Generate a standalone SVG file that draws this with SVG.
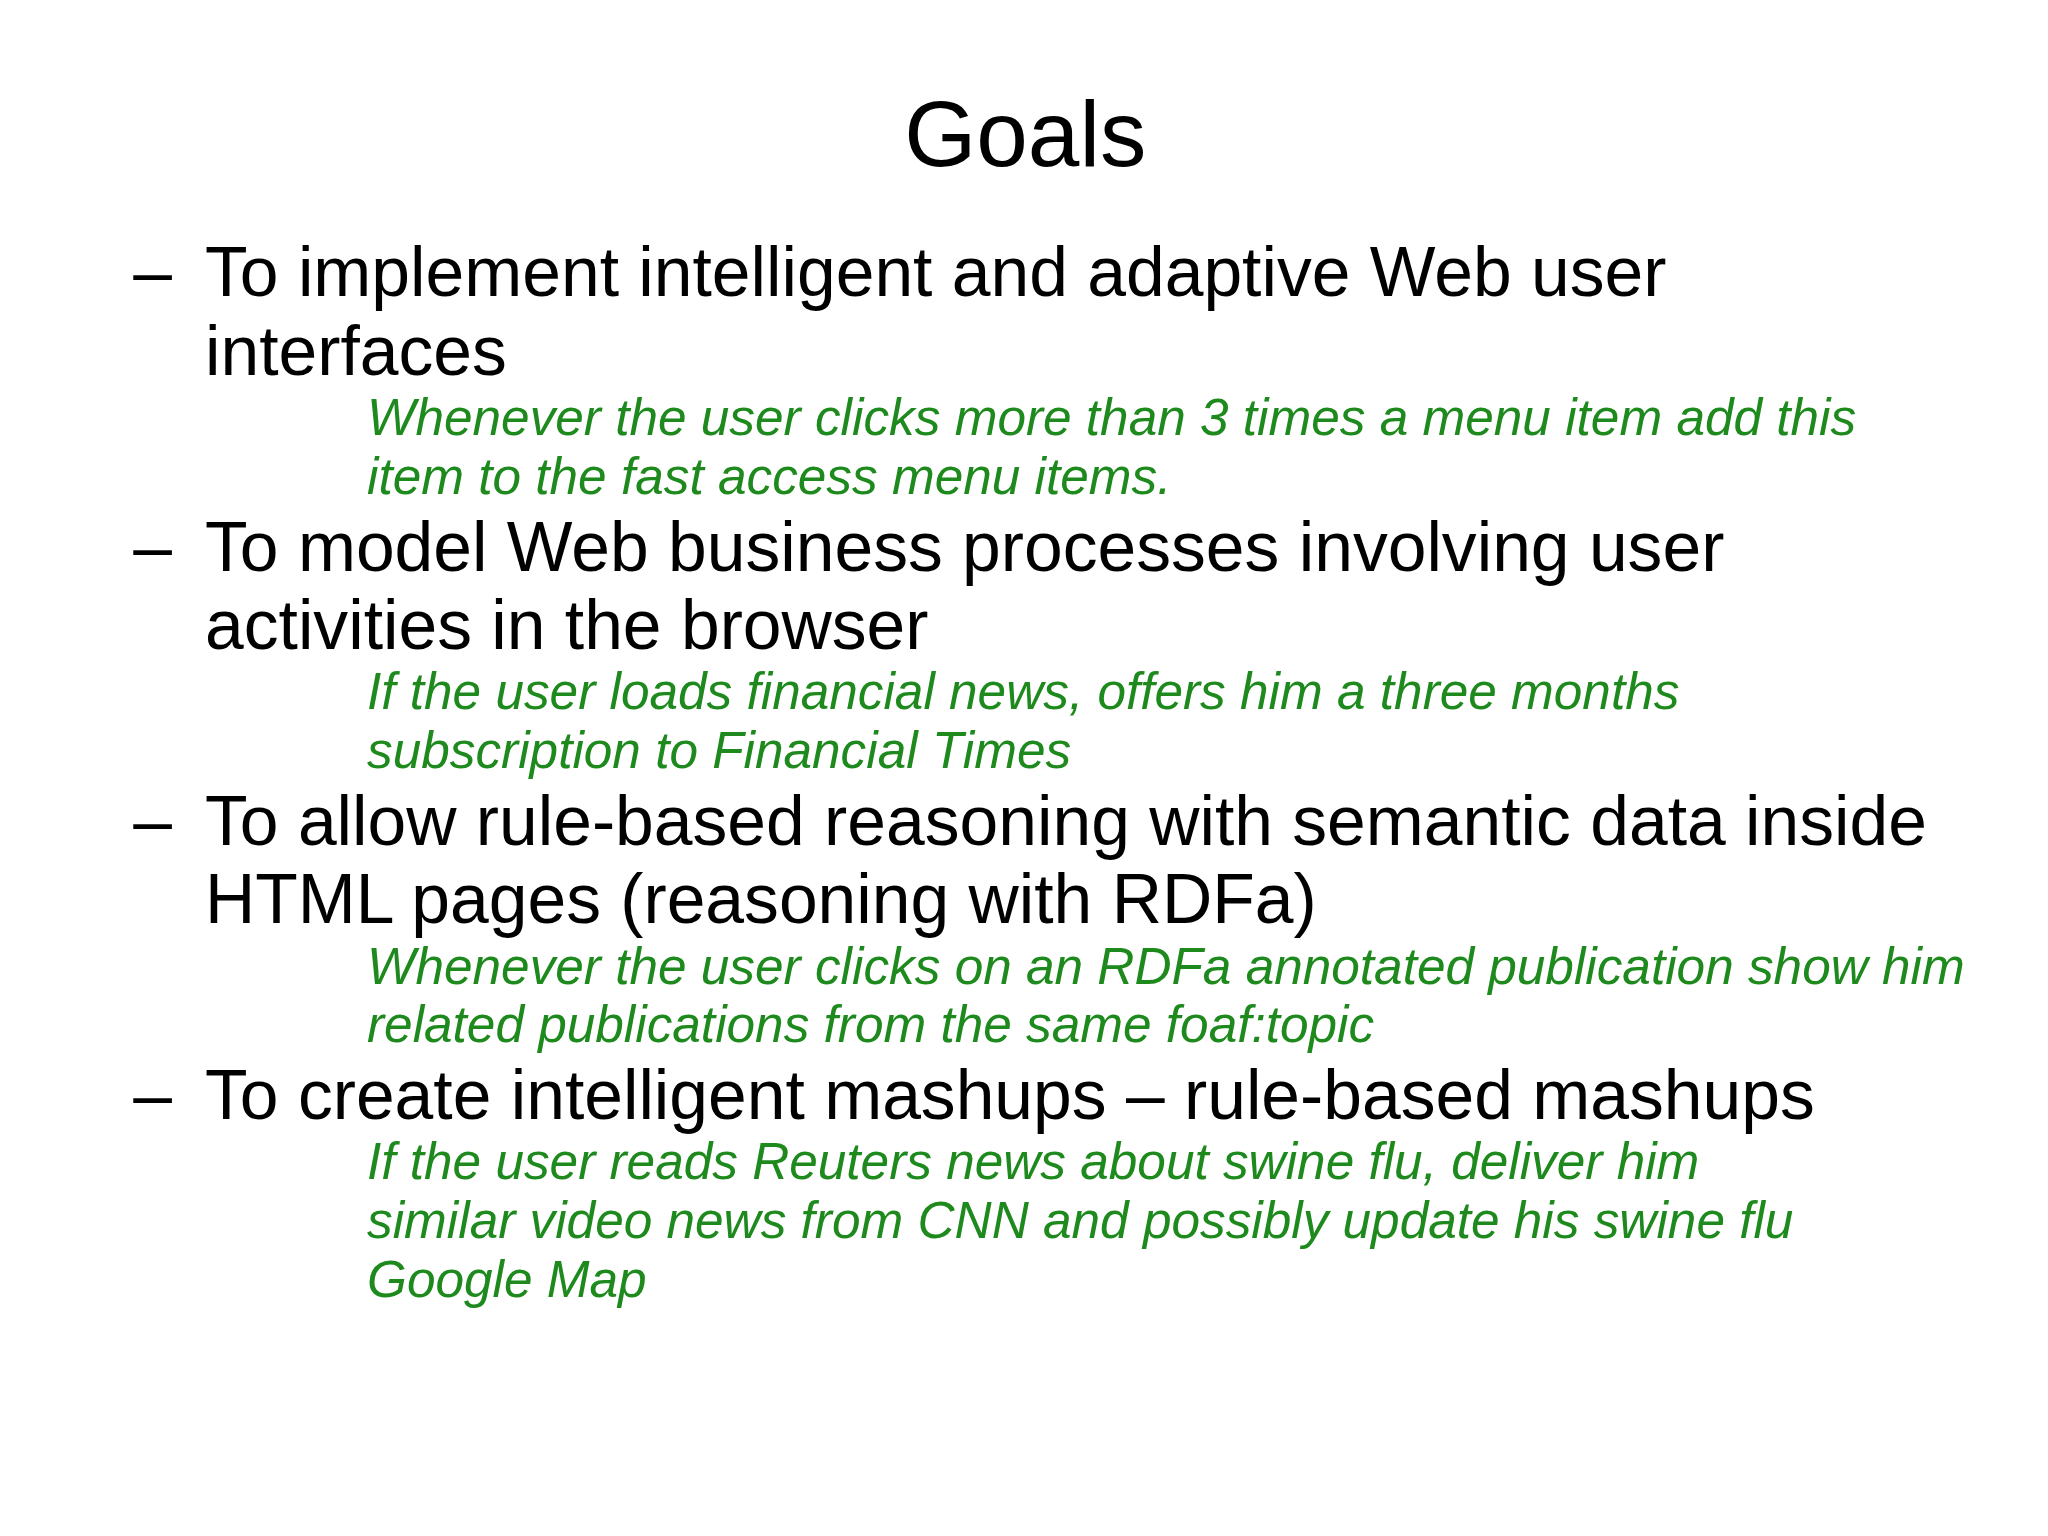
<svg xmlns="http://www.w3.org/2000/svg" width="2048" height="1536" viewBox="0 0 2048 1536">
<style>
text{font-family:"Liberation Sans",Arial,sans-serif}
.t{font-size:71px;text-anchor:middle;fill:#000}
.m{font-size:53.3px;fill:#000}
.g{font-size:39.3px;font-style:italic;fill:#1e8a1e}
</style>
<rect width="2048" height="1536" fill="#fff"/>
<g transform="scale(1.30612)">
<text class="t" x="785" y="127">Goals</text>
<g id="b1">
<text class="m" x="102" y="227">–</text>
<text class="m" x="157" y="227">To implement intelligent and adaptive Web user</text>
<text class="m" x="157" y="287">interfaces</text>
<text class="g" x="281" y="333">Whenever the user clicks more than 3 times a menu item add this</text>
<text class="g" x="281" y="378">item to the fast access menu items.</text>
</g>
<g id="b2">
<text class="m" x="102" y="437">–</text>
<text class="m" x="157" y="437">To model Web business processes involving user</text>
<text class="m" x="157" y="497">activities in the browser</text>
<text class="g" x="281" y="543">If the user loads financial news, offers him a three months</text>
<text class="g" x="281" y="588">subscription to Financial Times</text>
</g>
<g id="b3">
<text class="m" x="102" y="647">–</text>
<text class="m" x="157" y="647">To allow rule-based reasoning with semantic data inside</text>
<text class="m" x="157" y="707">HTML pages (reasoning with RDFa)</text>
<text class="g" x="281" y="753">Whenever the user clicks on an RDFa annotated publication show him</text>
<text class="g" x="281" y="798">related publications from the same foaf:topic</text>
</g>
<g id="b4">
<text class="m" x="102" y="857">–</text>
<text class="m" x="157" y="857">To create intelligent mashups – rule-based mashups</text>
<text class="g" x="281" y="903">If the user reads Reuters news about swine flu, deliver him</text>
<text class="g" x="281" y="948">similar video news from CNN and possibly update his swine flu</text>
<text class="g" x="281" y="993">Google Map</text>
</g>
</g>
</svg>
